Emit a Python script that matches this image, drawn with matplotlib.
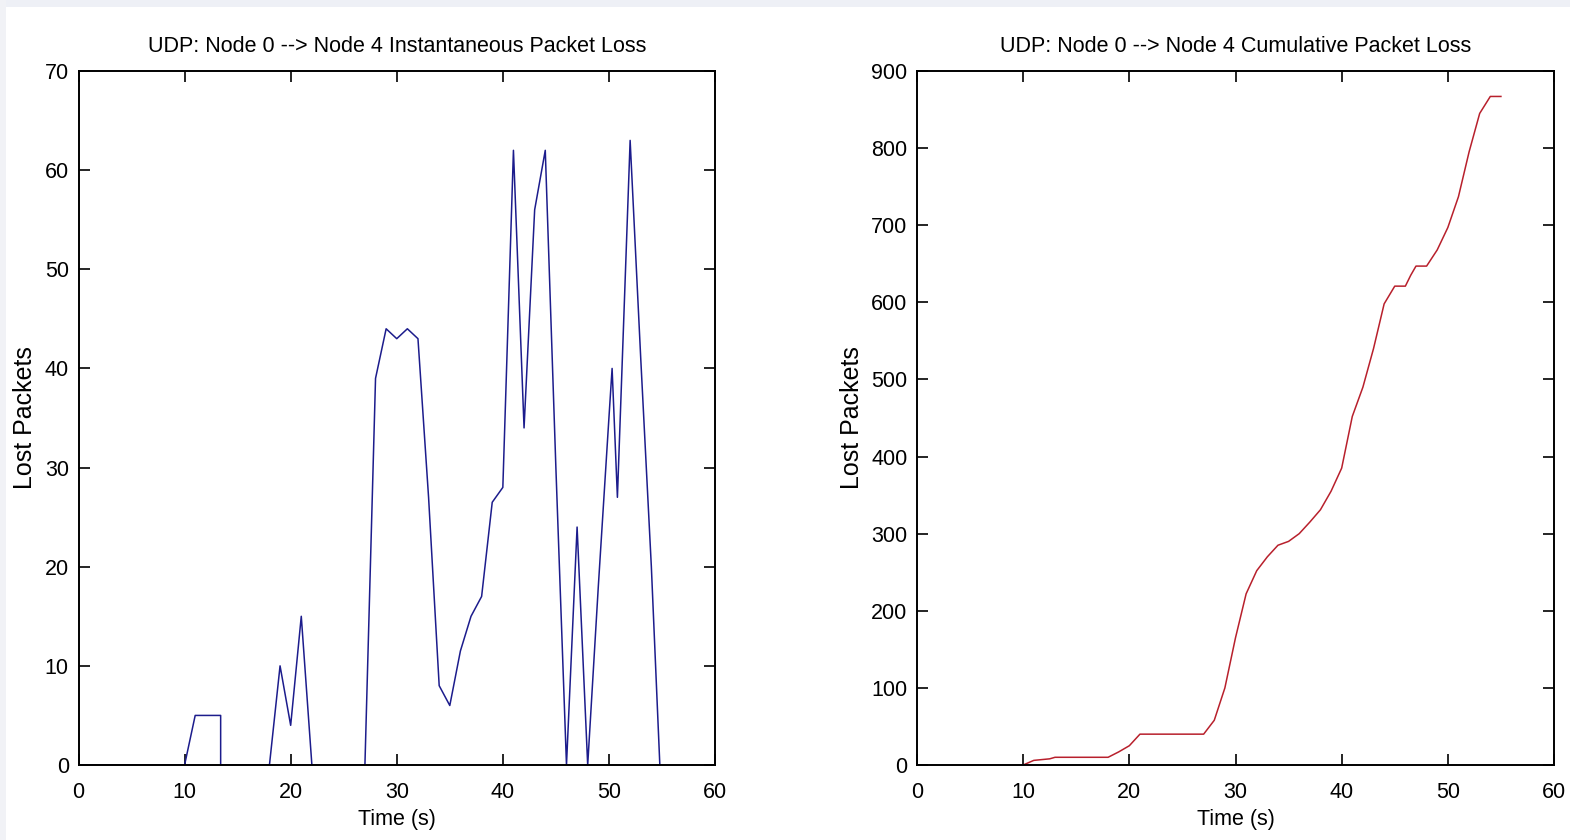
import matplotlib
matplotlib.use('Agg')
import matplotlib.pyplot as plt
from matplotlib.patches import Rectangle

# instantaneous loss
inst_t = [0, 10, 11, 13.4, 13.4, 18, 19, 20, 21, 22, 27, 28, 29, 30, 31, 32, 33, 34, 35, 36, 37, 38, 39,
          40, 41, 42, 43, 44, 45, 46, 47, 48, 49, 50, 50.3, 50.8, 52, 53, 54, 54.8]
inst_loss = [0, 0, 5, 5, 0, 0, 10, 4, 15, 0, 0, 39, 44, 43, 44, 43, 27, 8, 6, 11.5, 15, 17, 26.5,
             28, 62, 34, 56, 62, 30, 0, 24, 0, 18, 35, 40, 27, 63, 41, 20, 0]

# cumulative loss
cum_t = [10, 11, 12.5, 13, 18, 19, 20, 21, 27, 28, 29, 30, 31, 32, 33, 34, 35, 36, 37, 38, 39, 40,
         41, 42, 43, 44, 45, 46, 46.5, 47, 48, 49, 50, 51, 52, 53, 54, 55]
cum_loss = [0, 6, 8, 10, 10, 17, 25, 40, 40, 58, 100, 165, 222, 252, 270, 285, 290, 300, 315, 331, 355, 385,
            452, 490, 540, 598, 621, 621, 635, 647, 647, 668, 697, 737, 795, 845, 867, 867]

x_ticks = [0, 10, 20, 30, 40, 50, 60]

font = 'Liberation Sans'

fig = plt.figure(figsize=(15.7, 8.4), dpi=100)
fig.patches.append(Rectangle((0, 1 - 7 / 840), 1, 7 / 840, transform=fig.transFigure,
                             facecolor='#eef0f6', edgecolor='none', zorder=0))
fig.patches.append(Rectangle((0, 0), 6 / 1570, 1, transform=fig.transFigure,
                             facecolor='#f1f2f6', edgecolor='none', zorder=0))

ax1 = fig.add_axes([78.5 / 1570, 75 / 840, 636.5 / 1570, 694 / 840])
ax2 = fig.add_axes([917 / 1570, 75 / 840, 637 / 1570, 694 / 840])


def style(ax, title, ylim, yticks, ylab_x):
    ax.set_xlim(0, 60)
    ax.set_ylim(*ylim)
    ax.set_xticks(x_ticks)
    ax.set_yticks(yticks)
    ax.tick_params(direction='in', top=True, right=True, length=8, width=1.2,
                   labelsize=15.5, pad=7)
    ax.tick_params(axis='x', pad=12)
    for lab in ax.get_xticklabels() + ax.get_yticklabels():
        lab.set_family(font)
    for s in ax.spines.values():
        s.set_linewidth(1.4)
    ax.set_title(title, fontsize=15.5, family=font, pad=14)
    ax.set_xlabel('Time (s)', fontsize=15.5, family=font)
    ax.set_ylabel('Lost Packets', fontsize=18, family=font)
    ax.xaxis.set_label_coords(0.5, -0.079)
    ax.xaxis.label.set_va('center')
    ax.yaxis.set_label_coords(ylab_x, 0.5)
    ax.yaxis.label.set_va('center')


ax1.plot(inst_t, inst_loss, color='#1c1c8c', linewidth=1.1)
style(ax1, 'UDP: Node 0 --> Node 4 Instantaneous Packet Loss', (0, 70), range(0, 71, 10), -0.084)

ax2.plot(cum_t, cum_loss, color='#b8202c', linewidth=1.1)
style(ax2, 'UDP: Node 0 --> Node 4 Cumulative Packet Loss', (0, 900), range(0, 901, 100), -0.102)

fig.savefig('out.png', dpi=100, facecolor='white')
plt.close(fig)
